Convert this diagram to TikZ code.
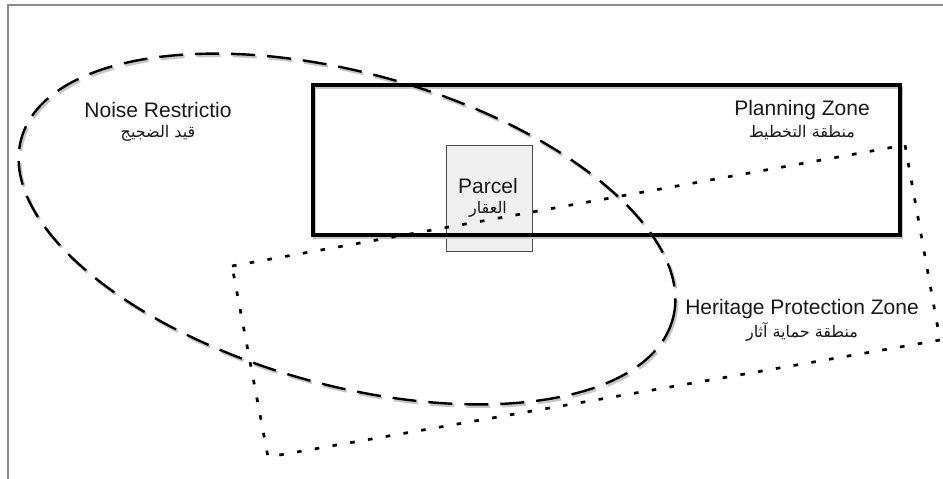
\documentclass[tikz,border=0pt]{standalone}
\usepackage{fontspec}
\setmainfont{Liberation Sans}
\newfontfamily\arabicfont[Script=Arabic]{DejaVu Sans}
\TeXXeTstate=1
\begin{document}
\begin{tikzpicture}[x=1pt,y=-1pt,
  frameline/.style={draw=black!45,line width=1.2pt},
  shade/.style={draw=black!22,line width=3pt},
  planzone/.style={draw=black,line width=3.2pt},
  noisezone/.style={draw=black,line width=2.4pt,dash pattern=on 24pt off 12pt},
  heritzone/.style={draw=black,line width=2.6pt,dash pattern=on 4.5pt off 13.5pt},
  parcelbox/.style={draw=black!70,fill=black!6,line width=0.9pt,minimum width=86pt,minimum height=106pt,inner sep=0pt},
  entext/.style={font=\fontsize{21}{23}\selectfont,text=black!90,inner sep=0pt},
  artext/.style={font=\arabicfont\fontsize{16}{18}\selectfont,text=black!90,inner sep=0pt}]
\useasboundingbox (0,0) rectangle (943,479);
\fill[white] (0,0) rectangle (943,479);

% outer frame (top and left edges)
\coordinate (ftl) at (8,5);
\coordinate (ftr) at (943,5);
\coordinate (fbl) at (8,479);
\draw[frameline] (ftr) -- (ftl) -- (fbl);

% heritage zone corners
\coordinate (h1) at (232,266);
\coordinate (h2) at (905,145);
\coordinate (h3) at (940,340);
\coordinate (h4) at (268,457);

% parcel (drawn first, the zone outlines run across it)
\node[parcelbox] (parcel) at (489,198) {};

% soft shadows
\begin{scope}[shift={(1.5,2)}]
  \draw[shade] (313,85) rectangle (900,235);
  \draw[shade,dash pattern=on 24pt off 12pt] (347,229) ellipse [x radius=338, y radius=156, rotate=-15.5];
  \draw[shade,dash pattern=on 4.5pt off 13.5pt] (h1) -- (h2) -- (h3) -- (h4) -- cycle;
\end{scope}

% planning zone
\draw[planzone] (313,85) rectangle (900,235);
% noise restriction
\draw[noisezone] (347,229) ellipse [x radius=338, y radius=156, rotate=-15.5];
% heritage protection zone
\draw[heritzone] (h1) -- (h2) -- (h3) -- (h4) -- cycle;

% labels
\node[entext] (noiseen) at (158,110) {Noise Restrictio};
\node[artext] (noisear) at (158,133) {\beginR قيد الضجيج\endR};
\node[entext] (planen) at (802,110) {Planning Zone};
\node[artext] (planar) at (802,133) {\beginR منطقة التخطيط\endR};
\node[entext] (parcelen) at (488,186) {Parcel};
\node[artext] (parcelar) at (488,209) {\beginR العقار\endR};
\node[entext] (heriten) at (802,309) {Heritage Protection Zone};
\node[artext] (heritar) at (802,332) {\beginR منطقة حماية آثار\endR};
\end{tikzpicture}
\end{document}
